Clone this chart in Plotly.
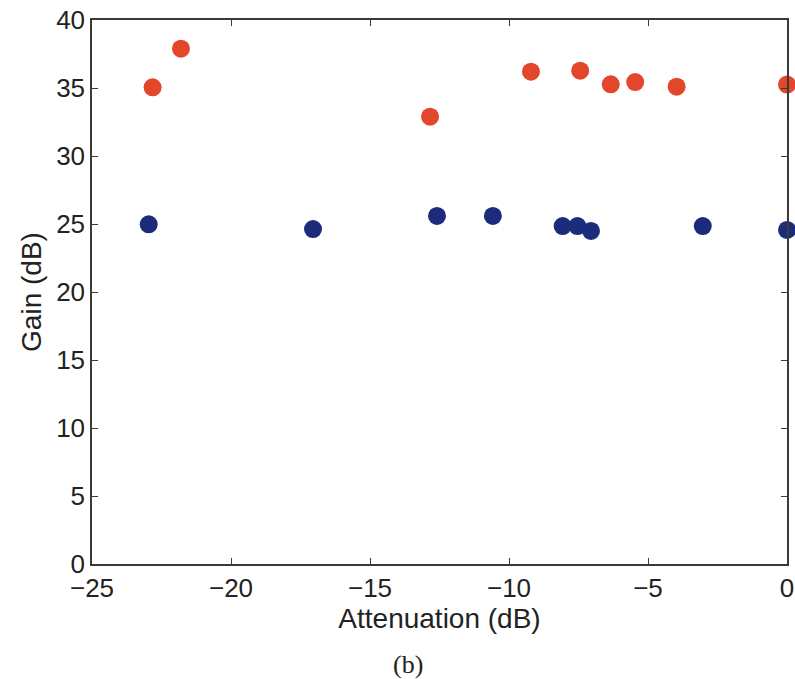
import plotly.graph_objects as go

# Attenuation (dB) and gain (dB) for the two measurement sets
att_high = [-22.82, -21.8, -12.84, -9.21, -7.44, -6.34, -5.46, -3.97, 0.0]
gain_high = [35.05, 37.89, 32.89, 36.2, 36.27, 35.27, 35.44, 35.1, 35.25]

att_low = [-22.96, -17.05, -12.59, -10.58, -8.07, -7.54, -7.05, -3.03, 0.0]
gain_low = [24.98, 24.63, 25.59, 25.59, 24.85, 24.85, 24.49, 24.85, 24.56]

x_ticks = [-25, -20, -15, -10, -5, 0]
x_labels = ["\u221225", "\u221220", "\u221215", "\u221210", "\u22125", "0"]
y_ticks = [0, 5, 10, 15, 20, 25, 30, 35, 40]

RED = "#E2472C"
BLUE = "#1C2B7C"
AXIS = "#3a3a3a"
TEXT = "#222222"
FONT = "Liberation Sans, Arial, sans-serif"

fig = go.Figure()
fig.add_trace(go.Scatter(
    x=att_high, y=gain_high, mode="markers",
    marker=dict(size=18, color=RED, line=dict(width=0)),
    cliponaxis=False, showlegend=False,
))
fig.add_trace(go.Scatter(
    x=att_low, y=gain_low, mode="markers",
    marker=dict(size=18, color=BLUE, line=dict(width=0)),
    cliponaxis=False, showlegend=False,
))

axis_common = dict(
    showgrid=False, zeroline=False, showline=True, linecolor=AXIS, linewidth=1.5,
    ticks="inside", ticklen=6, tickwidth=1.2, tickcolor=AXIS, mirror="ticks",
    tickfont=dict(family=FONT, size=26, color=TEXT), automargin=False,
)

fig.update_xaxes(
    range=[-25, 0], tickvals=x_ticks, ticktext=x_labels,
    title=dict(text="Attenuation (dB)", font=dict(family=FONT, size=28, color=TEXT), standoff=2),
    **axis_common,
)
fig.update_yaxes(
    range=[0, 40], tickvals=y_ticks,
    title=dict(text="Gain (dB)", font=dict(family=FONT, size=28, color=TEXT), standoff=6),
    **axis_common,
)

fig.add_annotation(
    text="(b)", xref="paper", yref="paper", x=0.455, y=-0.185,
    xanchor="center", yanchor="middle", showarrow=False,
    font=dict(family="Liberation Serif, DejaVu Serif, serif", size=26, color=TEXT),
)

fig.update_layout(
    width=795, height=679,
    margin=dict(l=92, r=8, t=20, b=115, autoexpand=False),
    plot_bgcolor="white", paper_bgcolor="white",
)

fig.write_html("out.html")
